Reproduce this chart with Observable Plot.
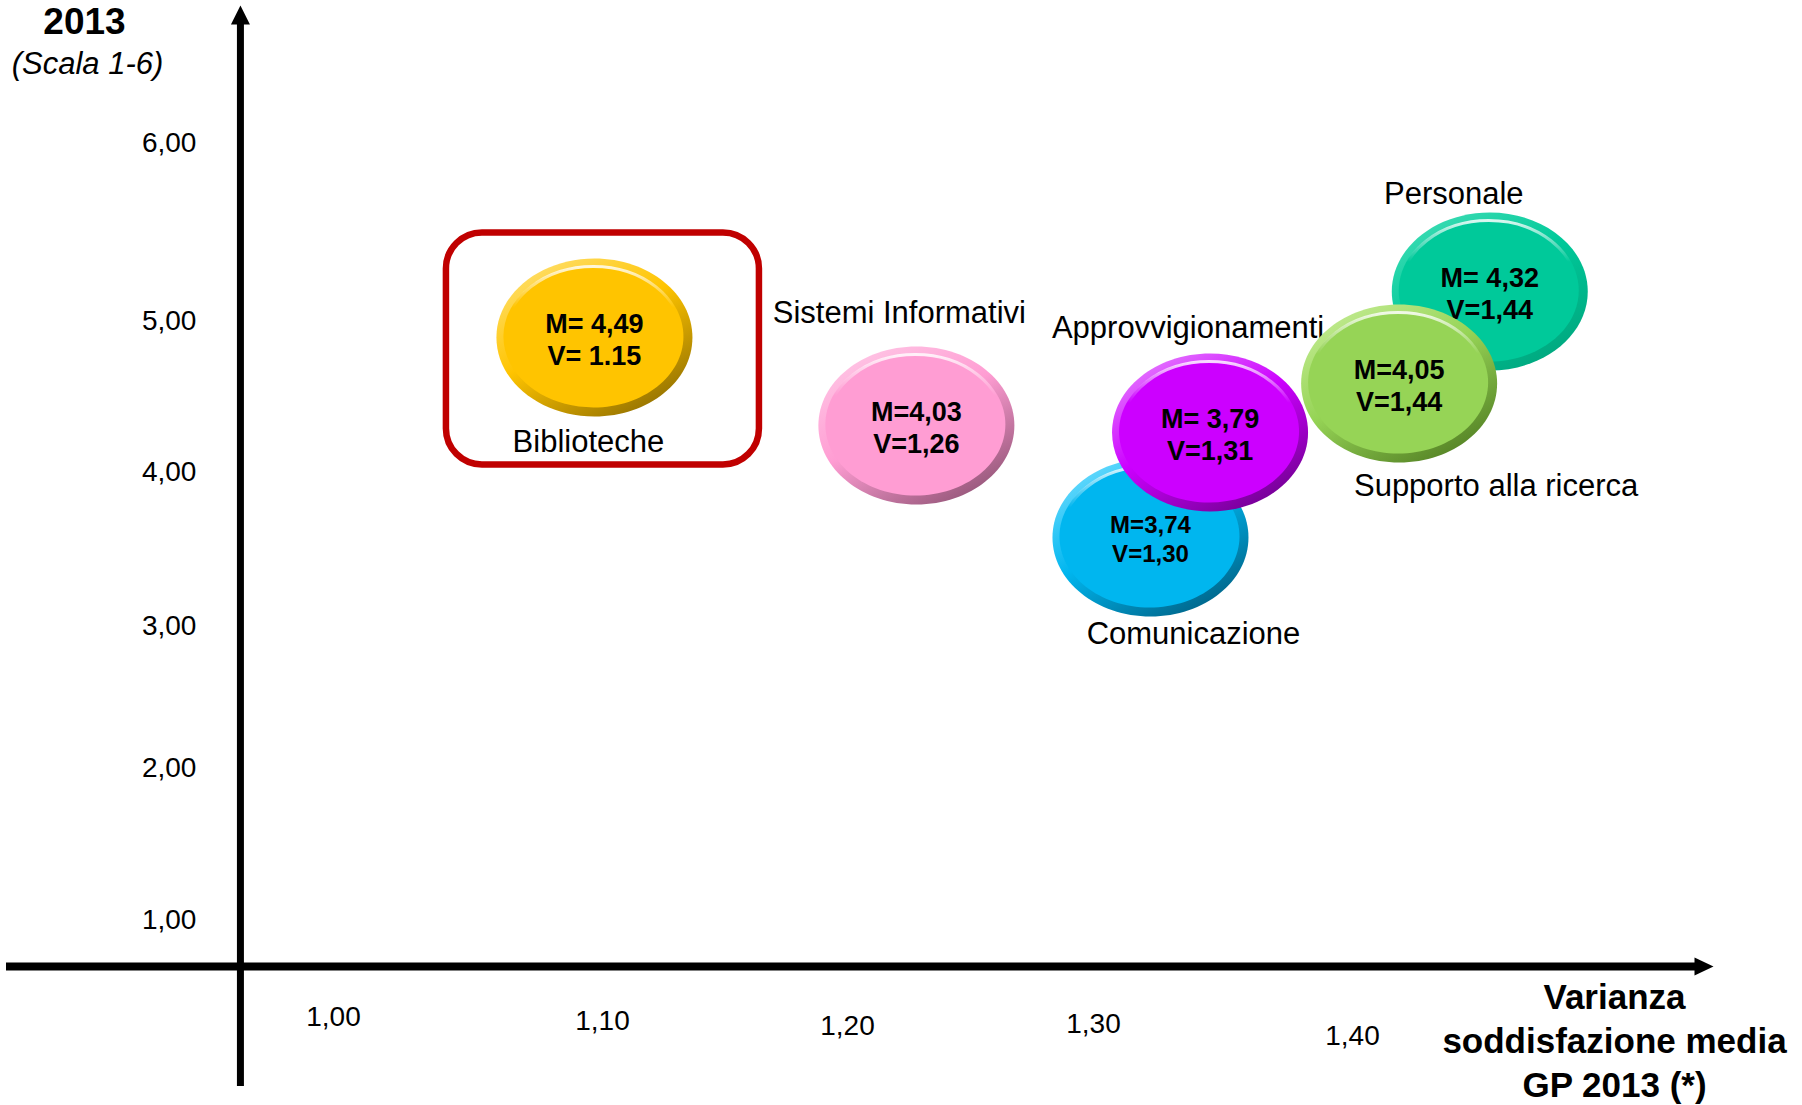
<!DOCTYPE html>
<html>
<head>
<meta charset="utf-8">
<script src="https://cdn.jsdelivr.net/npm/d3@7"></script>
<script src="https://cdn.jsdelivr.net/npm/@observablehq/plot@0.6"></script>
<style>
  html, body { margin: 0; padding: 0; background: #fff; }
  #chart svg { display: block; }
</style>
</head>
<body>
<div id="chart"></div>
<script>
// ---------- DATA ----------
const categories = ["Biblioteche", "Sistemi Informativi", "Comunicazione", "Approvvigionamenti", "Personale", "Supporto alla ricerca"];
const meanScores = [4.49, 4.03, 3.74, 3.79, 4.32, 4.05];   // M
const variances  = [1.15, 1.26, 1.30, 1.31, 1.44, 1.44];   // V
const mLabels = ["M= 4,49", "M=4,03", "M=3,74", "M= 3,79", "M= 4,32", "M=4,05"];
const vLabels = ["V= 1.15", "V=1,26", "V=1,30", "V=1,31", "V=1,44", "V=1,44"];
// where each bubble is placed on the drawn axes (axis units)
const placedX = [1.097, 1.228, 1.322, 1.345, 1.453, 1.418];
const placedY = [4.892, 4.310, 3.578, 4.264, 5.166, 4.588];
const highlighted = "Biblioteche";

const yTicks = [1, 2, 3, 4, 5, 6];
const yTickLabels = ["1,00", "2,00", "3,00", "4,00", "5,00", "6,00"];
const xTicks = [1.0, 1.1, 1.2, 1.3, 1.4];
const xTickLabels = ["1,00", "1,10", "1,20", "1,30", "1,40"];
const axisOriginX = 0.9654;   // where the vertical axis crosses
const axisOriginY = 0.6984;   // where the horizontal axis crosses
const yTitle = "2013";
const ySubtitle = "(Scala 1-6)";
const xTitle = "Varianza\nsoddisfazione media\nGP 2013 (*)";

// ---------- STYLE ----------
const FONT = "'Liberation Sans', Arial, Helvetica, sans-serif";
const faceColors = ["#FFC400", "#FF9DD3", "#00B6EF", "#CC00FF", "#00C99A", "#96D456"];
const rimLight   = ["#FFE070", "#FFC8E6", "#70DDFF", "#E680FF", "#40DDB5", "#C4EC94"];
const rimDark    = ["#8A6A00", "#8A4F70", "#005C7E", "#6A0088", "#00A47C", "#4E7A20"];
const innerFont  = [27, 27, 24, 27, 27, 27];
// name label offsets from the bubble centre (px)
const labelDx = [-6, -17, 43, -22, -36, 97];
const labelDy = [105, -112, 97, -104, -97, 103];
const xTickDy = [51, 55, 60, 58, 70];

const data = categories.map((name, i) => ({
  name, mean: meanScores[i], variance: variances[i],
  text: mLabels[i] + "\n" + vLabels[i],
  px: placedX[i], py: placedY[i], i
}));

function ellipse(rx, ry) {
  const k = 0.5522847498;
  return {
    draw(ctx) {
      ctx.moveTo(rx, 0);
      ctx.bezierCurveTo(rx, ry * k, rx * k, ry, 0, ry);
      ctx.bezierCurveTo(-rx * k, ry, -rx, ry * k, -rx, 0);
      ctx.bezierCurveTo(-rx, -ry * k, -rx * k, -ry, 0, -ry);
      ctx.bezierCurveTo(rx * k, -ry, rx, -ry * k, rx, 0);
      ctx.closePath();
    }
  };
}
const arrowUp = { draw(ctx) { ctx.moveTo(0, 0); ctx.lineTo(9.5, 19); ctx.lineTo(-9.5, 19); ctx.closePath(); } };
const arrowRight = { draw(ctx) { ctx.moveTo(0, 0); ctx.lineTo(-19, -9); ctx.lineTo(-19, 9); ctx.closePath(); } };

const bubbleMarks = data.flatMap((d, i) => [
  Plot.text([d], {x: "px", y: "py", text: "name", dx: labelDx[i], dy: labelDy[i],
    fontSize: 31, fill: "#000", fontFamily: FONT}),
  Plot.dot([d], {x: "px", y: "py", symbol: ellipse(98, 79), fill: `url(#rim${i})`, stroke: "none"}),
  Plot.dot([d], {x: "px", y: "py", symbol: ellipse(90, 71), dx: -1, dy: -1, fill: faceColors[i], stroke: "none"}),
  Plot.dot([d], {x: "px", y: "py", symbol: ellipse(88, 69), dx: -1, dy: -2, fill: "none",
    stroke: "url(#hl)", strokeWidth: 3}),
  Plot.text([d], {x: "px", y: "py", text: "text", dy: 1, fontSize: innerFont[i], fontWeight: "bold",
    lineHeight: 1.2, fill: "#000", fontFamily: FONT})
]);

const hl = data.filter(d => d.name === highlighted);

const plot = Plot.plot({
  width: 1802,
  height: 1105,
  marginTop: 5,
  marginBottom: 19,
  marginLeft: 6,
  marginRight: 89,
  style: {fontFamily: FONT, background: "#fff", overflow: "visible"},
  x: {type: "linear", domain: xTicks, range: [333, 602, 847, 1093, 1352], axis: null},
  y: {type: "linear", domain: yTicks, range: [920, 767.5, 626, 472, 320.6, 142.5], axis: null},
  marks: [
    // axes
    Plot.ruleY([axisOriginY], {stroke: "#000", strokeWidth: 8, insetRight: 15}),
    Plot.ruleX([axisOriginX], {stroke: "#000", strokeWidth: 7, insetTop: 15}),
    Plot.dot([axisOriginX], {x: d => d, frameAnchor: "top", symbol: arrowUp, fill: "#000", stroke: "none"}),
    Plot.dot([axisOriginY], {y: d => d, frameAnchor: "right", symbol: arrowRight, fill: "#000", stroke: "none"}),
    // tick labels
    Plot.text(yTicks, {x: axisOriginX, y: d => d, text: (d, i) => yTickLabels[i], textAnchor: "end",
      dx: -44, fontSize: 28, fill: "#000"}),
    ...xTicks.map((t, i) => Plot.text([t], {x: d => d, y: axisOriginY, text: () => xTickLabels[i],
      dy: xTickDy[i], fontSize: 28, fill: "#000"})),
    // titles
    Plot.text([yTitle], {frameAnchor: "top-left", text: d => d, dx: 78, dy: 17, fontSize: 37,
      fontWeight: "bold", textAnchor: "middle", lineAnchor: "middle", fill: "#000"}),
    Plot.text([ySubtitle], {frameAnchor: "top-left", text: d => d, dx: 81, dy: 59, fontSize: 31,
      fontStyle: "italic", textAnchor: "middle", lineAnchor: "middle", fill: "#000"}),
    Plot.text([xTitle], {frameAnchor: "bottom-right", text: d => d, dx: -99, dy: -48, fontSize: 35,
      fontWeight: "bold", lineHeight: 1.26, textAnchor: "middle", lineAnchor: "middle", fill: "#000"}),
    // highlight box
    Plot.rect(hl, {x1: "px", x2: "px", y1: "py", y2: "py",
      insetLeft: -148, insetRight: -165, insetTop: -104.5, insetBottom: -127.5,
      rx: 36, fill: "none", stroke: "#C00000", strokeWidth: 6.5}),
    // bubbles
    ...bubbleMarks
  ]
});

// gradient definitions for the bevelled bubbles
let defs = `<defs>
  <linearGradient id="hl" x1="0" y1="0" x2="0" y2="1">
    <stop offset="0" stop-color="#fff" stop-opacity="0.85"/>
    <stop offset="0.3" stop-color="#fff" stop-opacity="0"/>
    <stop offset="1" stop-color="#fff" stop-opacity="0"/>
  </linearGradient>`;
faceColors.forEach((c, i) => {
  defs += `<linearGradient id="rim${i}" x1="0.15" y1="0" x2="0.85" y2="1">
    <stop offset="0" stop-color="${rimLight[i]}"/>
    <stop offset="0.45" stop-color="${c}"/>
    <stop offset="1" stop-color="${rimDark[i]}"/>
  </linearGradient>`;
});
defs += `</defs>`;
plot.insertAdjacentHTML("afterbegin", defs);
document.getElementById("chart").appendChild(plot);
</script>
</body>
</html>
